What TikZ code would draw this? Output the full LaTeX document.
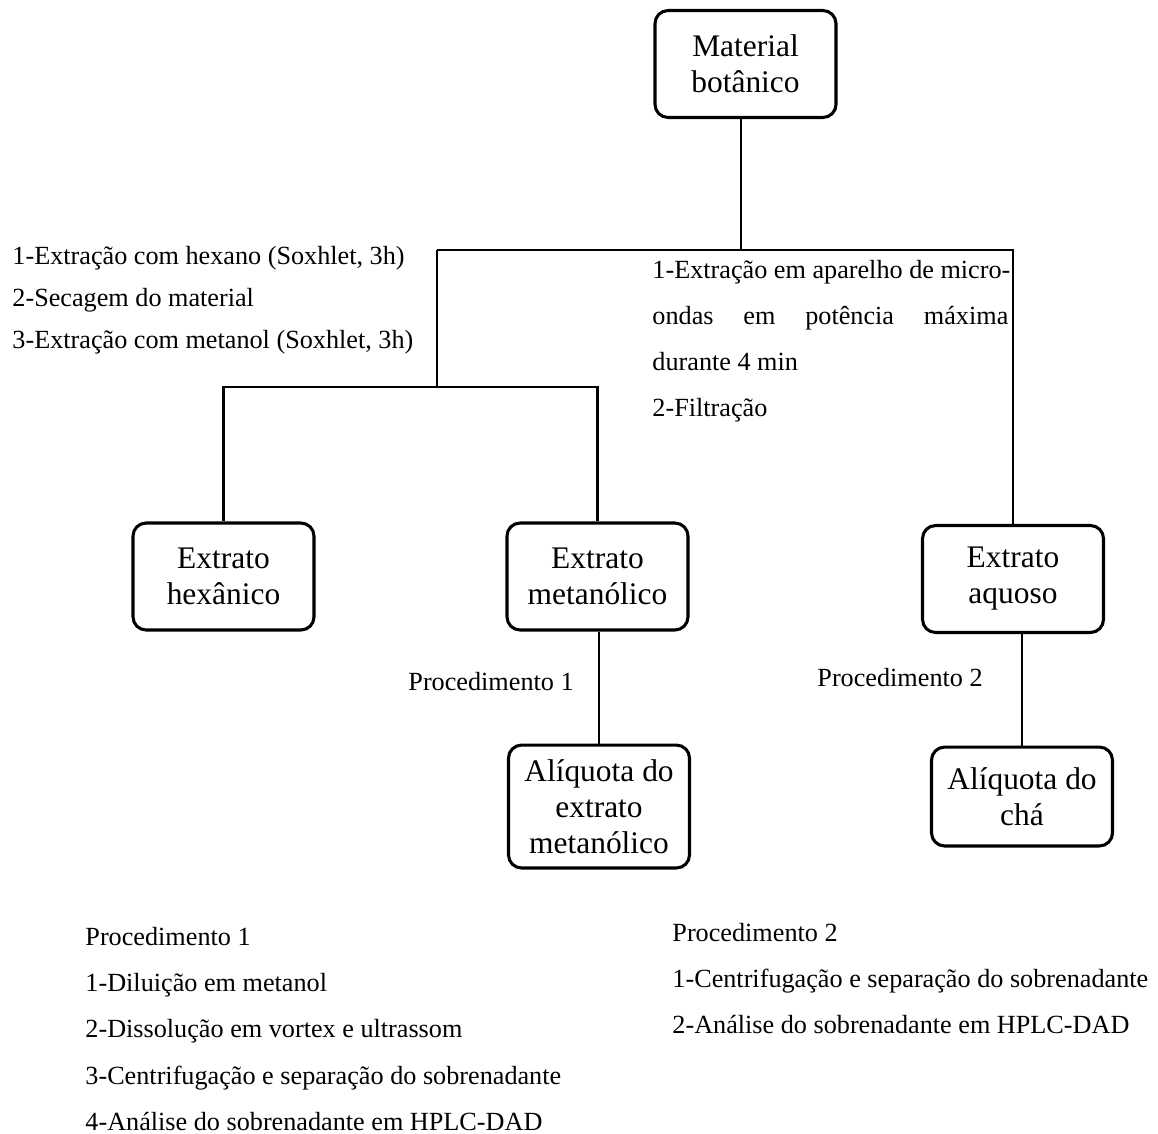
\documentclass[tikz,border=0pt]{standalone}
\usepackage{fontspec}
\setmainfont{Liberation Serif}

\tikzset{
  caixa/.style={draw, line width=1.4pt, rounded corners=6pt, minimum width=82.9pt,
    minimum height=49pt, align=center, font=\fontsize{14.4}{16.5}\selectfont},
  liga/.style={line width=1.1pt},
  texto/.style={anchor=base west, inner sep=0pt, font=\fontsize{12}{14}\selectfont}
}

\begin{document}
\begin{tikzpicture}[x=0.458pt, y=-0.458pt]
\useasboundingbox (0,0) rectangle (1158,1133);

% Material de partida
\node[caixa] (mat) at (745.5,64) {Material\\botânico};

% Extratos
\node[caixa] (hex) at (223.5,576.5) {Extrato\\hexânico};
\node[caixa] (met) at (597.5,576.5) {Extrato\\metanólico};
\node[caixa] (aq) at (1013,579) {Extrato\\aquoso};

% Aliquotas
\node[caixa, minimum height=56.3pt, inner sep=2pt] (aliqmet) at (599,806.5) {Alíquota do\\extrato\\metanólico};
\node[caixa, minimum height=45.3pt] (aliqcha) at (1022,796.5) {Alíquota do\\chá};

% Ligacoes
\coordinate (ra) at (437,250);
\coordinate (rb) at (437,387);
\draw[liga] ([xshift=-2pt]mat.south) -- ([xshift=-2pt]mat.south |- ra);
\draw[liga] (ra) -| (aq.north);
\draw[liga] (ra) -- (rb);
\draw[liga] (hex.north) |- (rb) -| (met.north);
\draw[liga] (met.south -| aliqmet.north) -- (aliqmet.north);
\draw[liga] (aq.south -| aliqcha.north) -- (aliqcha.north);

% Etapas do extrato metanolico
\node[texto] (e1) at (12,264) {1-Extração com hexano (Soxhlet, 3h)};
\node[texto] (e2) at (12,306) {2-Secagem do material};
\node[texto] (e3) at (12,348) {3-Extração com metanol (Soxhlet, 3h)};

% Etapas do cha
\node[texto] (c1) at (652,278) {1-Extração em aparelho de micro-};
\node[texto] (c2) at (652,324) {\makebox[163pt][s]{ondas em potência máxima}};
\node[texto] (c3) at (652,370) {durante 4 min};
\node[texto] (c4) at (652,416) {2-Filtração};

% Rotulos das ligacoes
\node[texto] (p1) at (408,690) {Procedimento 1};
\node[texto] (p2) at (817,686) {Procedimento 2};

% Procedimento 1
\node[texto] (pa0) at (85,945) {Procedimento 1};
\node[texto] (pa1) at (85,991) {1-Diluição em metanol};
\node[texto] (pa2) at (85,1037) {2-Dissolução em vortex e ultrassom};
\node[texto] (pa3) at (85,1084) {3-Centrifugação e separação do sobrenadante};
\node[texto] (pa4) at (85,1130) {4-Análise do sobrenadante em HPLC-DAD};

% Procedimento 2
\node[texto] (pb0) at (672,941) {Procedimento 2};
\node[texto] (pb1) at (672,987) {1-Centrifugação e separação do sobrenadante};
\node[texto] (pb2) at (672,1033) {2-Análise do sobrenadante em HPLC-DAD};

%\draw[help lines] (0,0) grid[step=100] (1158,1133);
\end{tikzpicture}
\end{document}
